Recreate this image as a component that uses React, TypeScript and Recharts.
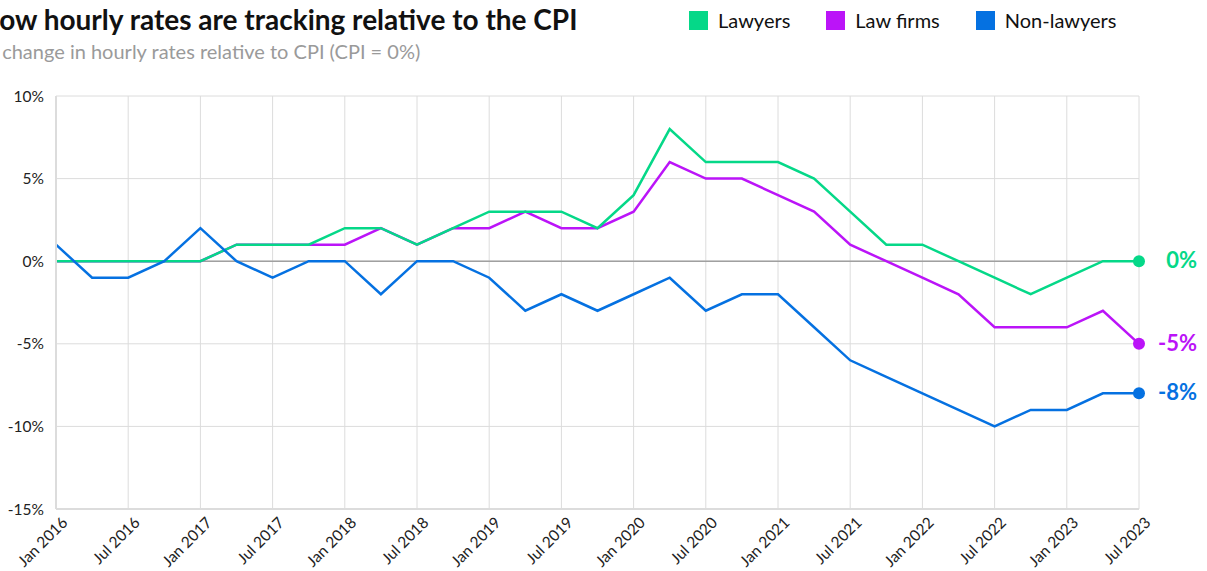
import React from "react";
import { CartesianGrid, Line, LineChart, ReferenceLine, XAxis, YAxis } from "recharts";

const quarters = [
  "Jan 2016", "Apr 2016", "Jul 2016", "Oct 2016",
  "Jan 2017", "Apr 2017", "Jul 2017", "Oct 2017",
  "Jan 2018", "Apr 2018", "Jul 2018", "Oct 2018",
  "Jan 2019", "Apr 2019", "Jul 2019", "Oct 2019",
  "Jan 2020", "Apr 2020", "Jul 2020", "Oct 2020",
  "Jan 2021", "Apr 2021", "Jul 2021", "Oct 2021",
  "Jan 2022", "Apr 2022", "Jul 2022", "Oct 2022",
  "Jan 2023", "Apr 2023", "Jul 2023",
];

const lawyers = [0, 0, 0, 0, 0, 1, 1, 1, 2, 2, 1, 2, 3, 3, 3, 2, 4, 8, 6, 6, 6, 5, 3, 1, 1, 0, -1, -2, -1, 0, 0];
const lawFirms = [0, 0, 0, 0, 0, 1, 1, 1, 1, 2, 1, 2, 2, 3, 2, 2, 3, 6, 5, 5, 4, 3, 1, 0, -1, -2, -4, -4, -4, -3, -5];
const nonLawyers = [1, -1, -1, 0, 2, 0, -1, 0, 0, -2, 0, 0, -1, -3, -2, -3, -2, -1, -3, -2, -2, -4, -6, -7, -8, -9, -10, -9, -9, -8, -8];

const xTicks = [0, 2, 4, 6, 8, 10, 12, 14, 16, 18, 20, 22, 24, 26, 28, 30];
const yTicks = [-15, -10, -5, 0, 5, 10];

const series = [
  { key: "lawyers", name: "Lawyers", color: "#05d888" },
  { key: "lawFirms", name: "Law firms", color: "#bb14f8" },
  { key: "nonLawyers", name: "Non-lawyers", color: "#0571e1" },
];

const data = quarters.map((q, i) => ({
  t: i,
  quarter: q,
  lawyers: lawyers[i],
  lawFirms: lawFirms[i],
  nonLawyers: nonLawyers[i],
}));

const FONT = "Lato, 'Open Sans', sans-serif";
const last = quarters.length - 1;

function XTick({ x, y, payload }: any) {
  return (
    <g transform={`translate(${x + 9},${y + 3}) rotate(-45)`}>
      <text textAnchor="end" fontSize={15.5} fontFamily={FONT} fill="#222" dy={5}>
        {quarters[payload.value]}
      </text>
    </g>
  );
}

function endDot(color: string) {
  return (props: any) => {
    const { cx, cy, index, value } = props;
    if (index !== last) return <g key={index} />;
    return (
      <g key={index}>
        <circle cx={cx} cy={cy} r={6} fill={color} />
        <text x={1197} y={cy} dy={7} textAnchor="end" fontSize={22} fontWeight={700} fontFamily={FONT} fill={color}>
          {`${value}%`}
        </text>
      </g>
    );
  };
}

export default function App() {
  const drawOrder = [series[1], series[0], series[2]];
  return (
    <div style={{ position: "absolute", left: 0, top: 0, width: 1207, height: 571, overflow: "hidden", background: "#fff", fontFamily: FONT }}>
      <div style={{ position: "absolute", left: -22, top: 2, fontSize: 28, fontWeight: 700, color: "#111", whiteSpace: "nowrap" }}>
        How hourly rates are tracking relative to the CPI
      </div>
      <div style={{ position: "absolute", left: -19, top: 39, fontSize: 20, color: "#9a9a9a", whiteSpace: "nowrap" }}>
        % change in hourly rates relative to CPI (CPI = 0%)
      </div>
      <div style={{ position: "absolute", left: 689, top: 8, display: "flex", alignItems: "center", fontSize: 20, color: "#111" }}>
        {series.map((s) => (
          <div key={s.key} style={{ display: "flex", alignItems: "center", marginRight: 36 }}>
            <span style={{ width: 19, height: 19, background: s.color, display: "inline-block", marginRight: 10 }} />
            <span>{s.name}</span>
          </div>
        ))}
      </div>
      <LineChart width={1207} height={571} data={data} margin={{ top: 96, right: 68, bottom: 0, left: 0 }}>
        <CartesianGrid stroke="#dcdcdc" strokeWidth={1} />
        <XAxis
          type="number"
          dataKey="t"
          domain={[0, last]}
          ticks={xTicks}
          tick={<XTick />}
          tickLine={false}
          axisLine={{ stroke: "#dcdcdc", strokeWidth: 2 }}
          height={62}
          interval={0}
        />
        <YAxis
          domain={[-15, 10]}
          ticks={yTicks}
          width={56}
          tickFormatter={(v) => `${v}%`}
          tickLine={false}
          tickSize={0}
          tickMargin={12}
          axisLine={{ stroke: "#dcdcdc", strokeWidth: 2 }}
          tick={{ fontSize: 15.5, fill: "#222", fontFamily: FONT }}
        />
        <ReferenceLine y={0} stroke="#a0a0a0" strokeWidth={1.5} />
        {drawOrder.map((s) => (
          <Line
            key={s.key}
            type="linear"
            dataKey={s.key}
            name={s.name}
            stroke={s.color}
            strokeWidth={2.5}
            dot={endDot(s.color)}
            activeDot={false}
            isAnimationActive={false}
          />
        ))}
      </LineChart>
    </div>
  );
}
